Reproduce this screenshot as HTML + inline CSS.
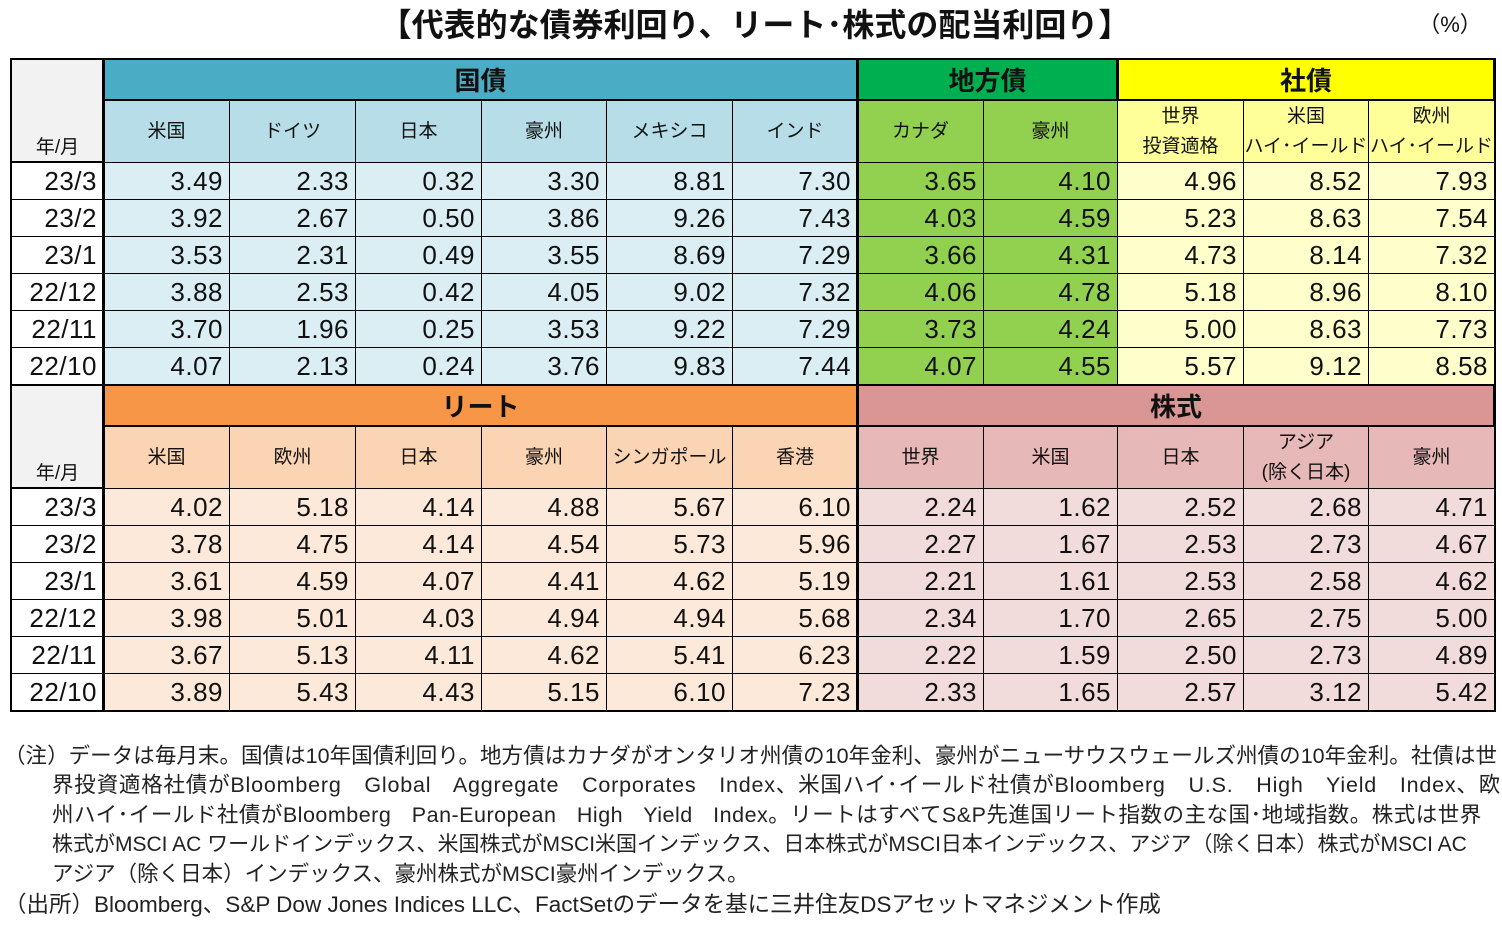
<!DOCTYPE html>
<html><head><meta charset="utf-8"><style>
body{margin:0;width:1502px;height:926px;background:#fff;position:relative;overflow:hidden;font-family:"Liberation Sans","Noto Sans CJK JP",sans-serif;}
.c{position:absolute;box-sizing:border-box;display:flex;align-items:center;justify-content:center;color:#111;}
.d{justify-content:flex-end;padding-right:6px;font-size:26px;border:1px solid #000;letter-spacing:0.5px;}
.h{font-size:19px;border:1px solid #000;text-align:center;line-height:30px;}
.g{font-size:26px;font-weight:bold;border:2px solid #000;}
.nl{position:absolute;font-size:21.5px;color:#222;line-height:29.5px;white-space:nowrap;}
</style></head><body>
<div class="c" style="left:360px;top:0;width:790px;height:46px;font-size:32px;font-weight:bold;">【代表的な債券利回り、リート･株式の配当利回り】</div>
<div class="c" style="left:1410px;top:6px;width:80px;height:34px;font-size:22px;">（%）</div>
<div id="t"></div>
<div>
<div class="nl" style="left:4px;width:1493px;top:742px;text-align:justify;text-align-last:justify;">（注）データは毎月末。国債は10年国債利回り。地方債はカナダがオンタリオ州債の10年金利、豪州がニューサウスウェールズ州債の10年金利。社債は世</div>
<div class="nl" style="left:52px;top:771px;word-spacing:16px;letter-spacing:0.8px;">界投資適格社債がBloomberg Global Aggregate Corporates Index、米国ハイ･イールド社債がBloomberg U.S. High Yield Index、欧</div>
<div class="nl" style="left:52px;top:801px;word-spacing:14px;letter-spacing:0.5px;">州ハイ･イールド社債がBloomberg Pan-European High Yield Index。リートはすべてS&amp;P先進国リート指数の主な国･地域指数。株式は世界</div>
<div class="nl" style="left:52px;top:830px;font-size:21px;">株式がMSCI AC ワールドインデックス、米国株式がMSCI米国インデックス、日本株式がMSCI日本インデックス、アジア（除く日本）株式がMSCI AC</div>
<div class="nl" style="left:52px;top:860px;">アジア（除く日本）インデックス、豪州株式がMSCI豪州インデックス。</div>
</div>
<div class="nl" style="left:4px;top:890px;font-size:22.5px;">（出所）Bloomberg、S&amp;P Dow Jones Indices LLC、FactSetのデータを基に三井住友DSアセットマネジメント作成</div>
<script>
const months=["23/3","23/2","23/1","22/12","22/11","22/10"];
const topCols=["米国","ドイツ","日本","豪州","メキシコ","インド","カナダ","豪州","世界<br>投資適格","米国<br>ハイ･イールド","欧州<br>ハイ･イールド"];
const topVals=[
["3.49","2.33","0.32","3.30","8.81","7.30","3.65","4.10","4.96","8.52","7.93"],
["3.92","2.67","0.50","3.86","9.26","7.43","4.03","4.59","5.23","8.63","7.54"],
["3.53","2.31","0.49","3.55","8.69","7.29","3.66","4.31","4.73","8.14","7.32"],
["3.88","2.53","0.42","4.05","9.02","7.32","4.06","4.78","5.18","8.96","8.10"],
["3.70","1.96","0.25","3.53","9.22","7.29","3.73","4.24","5.00","8.63","7.73"],
["4.07","2.13","0.24","3.76","9.83","7.44","4.07","4.55","5.57","9.12","8.58"]];
const botCols=["米国","欧州","日本","豪州","シンガポール","香港","世界","米国","日本","アジア<br>(除く日本)","豪州"];
const botVals=[
["4.02","5.18","4.14","4.88","5.67","6.10","2.24","1.62","2.52","2.68","4.71"],
["3.78","4.75","4.14","4.54","5.73","5.96","2.27","1.67","2.53","2.73","4.67"],
["3.61","4.59","4.07","4.41","4.62","5.19","2.21","1.61","2.53","2.58","4.62"],
["3.98","5.01","4.03","4.94","4.94","5.68","2.34","1.70","2.65","2.75","5.00"],
["3.67","5.13","4.11","4.62","5.41","6.23","2.22","1.59","2.50","2.73","4.89"],
["3.89","5.43","4.43","5.15","6.10","7.23","2.33","1.65","2.57","3.12","5.42"]];
const X=[103,229,355,481,606,732,857,983,1117,1243,1368,1494];
const t=document.getElementById('t');
function cell(cls,x,y,w,h,txt,bg,name){const e=document.createElement('div');e.className='c '+cls;
e.style.cssText=`left:${x}px;top:${y}px;width:${w}px;height:${h}px;background:${bg};`;e.innerHTML=txt;


t.appendChild(e);}
function section(y0,groups,cols,vals,pre){
 cell('h',11,y0,93,104,'','#F2F2F2',pre+'corner');
 const lab=document.createElement('div');lab.className='c';lab.style.cssText=`left:11px;top:${y0+72}px;width:93px;height:30px;font-size:19px;`;lab.textContent='年/月';
 
 
 t.appendChild(lab);
 groups.forEach(g=>{cell('g',X[g.a],y0,X[g.b]-X[g.a]+1,43,g.n,g.c,pre+'group-header');
  for(let i=g.a;i<g.b;i++){cell('h',X[i],y0+42,X[i+1]-X[i]+1,63,cols[i],g.s,pre+'column-header');
   vals.forEach((r,j)=>cell('d',X[i],y0+104+j*37,X[i+1]-X[i]+1,38,r[i],g.d,pre+'value-cell'));}});
 months.forEach((m,j)=>cell('d',11,y0+104+j*37,93,38,m,'#fff',pre+'month-label'));
 const f=document.createElement('div');f.style.cssText=`position:absolute;left:10px;top:${y0}px;width:1486px;height:${104+6*37+2}px;border:2px solid #000;box-sizing:border-box;pointer-events:none;`;
 
 
 t.appendChild(f);
 [X[0],X[6]].forEach(x=>{const v=document.createElement('div');v.style.cssText=`position:absolute;left:${x-1}px;top:${y0}px;width:3px;height:${104+6*37+2}px;background:#000;`;
 
 
 t.appendChild(v);});
}
section(58,[{a:0,b:6,n:'国債',c:'#4BACC6',s:'#B7DEE8',d:'#DAEEF3'},{a:6,b:8,n:'地方債',c:'#00B050',s:'#92D050',d:'#92D050'},{a:8,b:11,n:'社債',c:'#FFFF00',s:'#FFFF99',d:'#FFFFCC'}],topCols,topVals,'bond-');
section(384,[{a:0,b:6,n:'リート',c:'#F79646',s:'#FBD4B4',d:'#FDE9D9'},{a:6,b:11,n:'株式',c:'#DA9694',s:'#E6B8B7',d:'#F2DCDB'}],botCols,botVals,'equity-');
</script>
</body></html>
